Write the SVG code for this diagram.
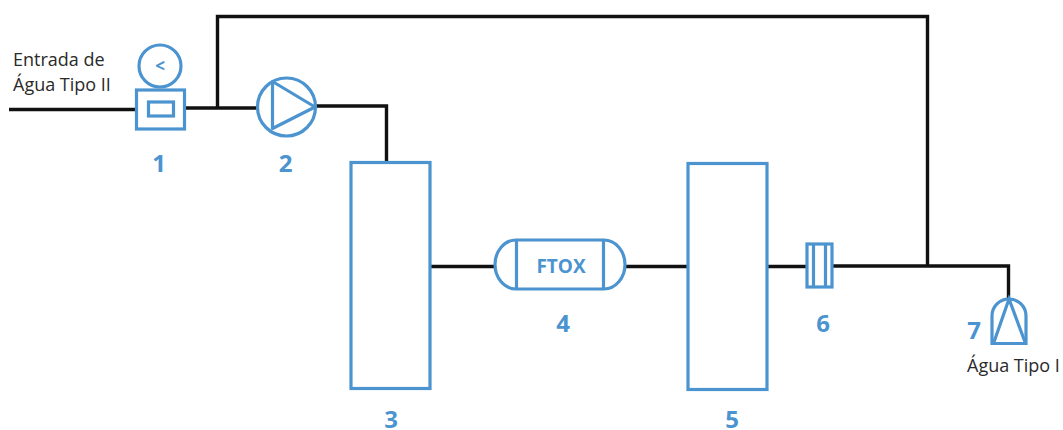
<svg xmlns="http://www.w3.org/2000/svg" width="1063" height="430" viewBox="0 0 1063 430">
<style>
.w{fill:none;stroke:#111;stroke-width:3.4}
.b{fill:none;stroke:#4b94d0;stroke-width:3.2}
.n{font-family:"Open Sans","Liberation Sans",sans-serif;font-weight:700;font-size:24px;fill:#4b94d0;text-anchor:middle}
.t{font-family:"Open Sans","Liberation Sans",sans-serif;font-size:18px;fill:#2a2a2a}
.s{font-family:"Open Sans","Liberation Sans",sans-serif;font-weight:700;fill:#4b94d0;text-anchor:middle}
</style>
<rect width="1063" height="430" fill="#fff"/>
<g id="connectors">
<path class="w" d="M9 109.500H136"/>
<path class="w" d="M185 108H258"/>
<path class="w" d="M217.500 108V16.500H927.500V265"/>
<path class="w" d="M316 106H386.500V162"/>
<path class="w" d="M431 266.500H495"/>
<path class="w" d="M625 266.500H688"/>
<path class="w" d="M767 266.500H807"/>
<path class="w" d="M832 266H1008.500V298"/>
</g>
<g id="node-1">
<circle class="b" cx="160" cy="66" r="21"/>
<rect class="b" x="136.500" y="90" width="48" height="39"/>
<rect class="b" x="148.500" y="102" width="25" height="14"/>
<text class="s" x="160" y="72" font-size="17">&lt;</text>
<text class="n" x="159" y="172">1</text>
</g>
<g id="node-2">
<circle class="b" cx="286.500" cy="107" r="29"/>
<path class="b" d="M272.500 81.500V128.500L315 107Z" stroke-linejoin="round"/>
<text class="n" x="285.500" y="172">2</text>
</g>
<g id="node-3">
<rect class="b" x="351" y="162.500" width="79" height="226"/>
<text class="n" x="391" y="428">3</text>
</g>
<g id="node-4">
<path class="b" d="M516 240H604A21 24.500 0 0 1 604 289H516A21 24.500 0 0 1 516 240Z"/>
<path class="b" d="M516.500 240V289M603.500 240V289"/>
<text class="s" x="561" y="272.500" font-size="19">FTOX</text>
<text class="n" x="563" y="332">4</text>
</g>
<g id="node-5">
<rect class="b" x="688" y="163.500" width="79" height="226"/>
<text class="n" x="732" y="428">5</text>
</g>
<g id="node-6">
<rect class="b" x="807" y="244" width="25" height="43"/>
<path class="b" d="M813.500 244V287M825.500 244V287"/>
<text class="n" x="823" y="332">6</text>
</g>
<g id="node-7">
<path class="b" d="M992 343.500V316A17 17 0 0 1 1026 316V343.500Z"/>
<path class="b" d="M994 342L1009 299L1025 342"/>
<text class="n" x="974" y="339">7</text>
<text class="t" x="967" y="372">Água Tipo I</text>
</g>
<g id="labels">
<text class="t" x="13" y="66">Entrada de</text>
<text class="t" x="13" y="91">Água Tipo II</text>
</g>
</svg>
